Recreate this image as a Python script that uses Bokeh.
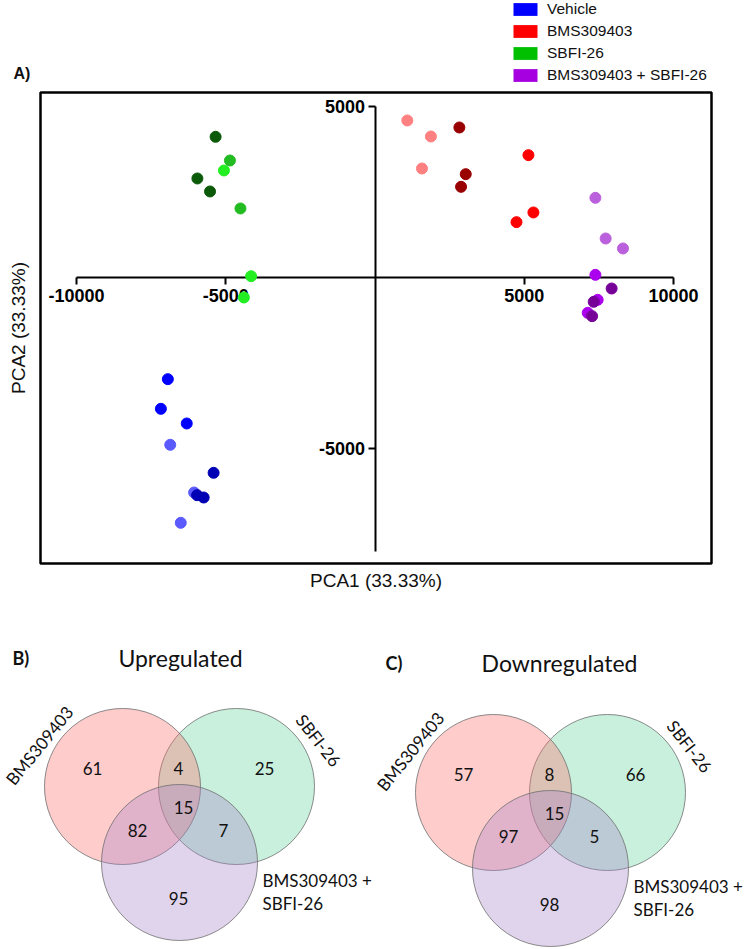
import math
from bokeh.plotting import figure
from bokeh.models import (Range1d, LinearAxis, FixedTicker, Legend, LegendItem,
                          ColumnDataSource)
from bokeh.layouts import column, row
from bokeh.embed import file_html
from bokeh.resources import INLINE
from bokeh.core.properties import value

# ---------------- Panel A data (PCA scores) ----------------
group_names = ["Vehicle", "BMS309403", "SBFI-26", "BMS309403 + SBFI-26"]

vehicle_pc1 = [-6940, -7173, -6307, -6860, -5407, -6060, -5960, -5740, -6507]
vehicle_pc2 = [-2973, -3840, -4269, -4892, -5711, -6287, -6365, -6433, -7173]
vehicle_rep = [1, 1, 1, 2, 0, 2, 0, 0, 2]

bms_pc1 = [1083, 1873, 2827, 5140, 1573, 3040, 2883, 5307, 4740]
bms_pc2 = [4591, 4123, 4386, 3577, 3187, 3021, 2651, 1901, 1618]
bms_rep = [2, 2, 0, 1, 2, 0, 0, 1, 1]

sbfi_pc1 = [-5340, -4860, -5060, -5950, -5527, -4507, -4150, -4393]
sbfi_pc2 = [4114, 3421, 3129, 2895, 2515, 2018, 38, -585]
sbfi_rep = [0, 1, 2, 0, 0, 1, 2, 2]

combo_pc1 = [7383, 7727, 8307, 7383, 7927, 7460, 7327, 7127, 7273]
combo_pc2 = [2330, 1140, 848, 78, -322, -653, -711, -1032, -1131]
combo_rep = [2, 2, 2, 1, 0, 1, 0, 1, 0]

pca_x_ticks = [-10000, -5000, 5000, 10000]
pca_x_tick_labels = ["-10000", "-5000", "5000", "10000"]
pca_y_ticks = [-5000, 5000]
pca_y_tick_labels = ["-5000", "5000"]
pca_x_label = "PCA1 (33.33%)"
pca_y_label = "PCA2 (33.33%)"

# ---------------- Panels B/C data (Venn counts) ----------------
# regions: BMS only, BMS&SBFI, SBFI only, all three, BMS&combo, SBFI&combo, combo only
up_counts = [61, 4, 25, 15, 82, 7, 95]
down_counts = [57, 8, 66, 15, 97, 5, 98]
venn_set_bms = "BMS309403"
venn_set_sbfi = "SBFI-26"
venn_set_combo = ["BMS309403 +", "SBFI-26"]

# ---------------- styles ----------------
swatch_colors = ["#0000ff", "#ff0000", "#00c000", "#a600e0"]
shade_palettes = [
    ["#0000b4", "#0000ff", "#5a5aff"],
    ["#990000", "#ff0000", "#ff8080"],
    ["#0a5a0a", "#22bb22", "#22ee22"],
    ["#770099", "#aa00ee", "#bb60dd"],
]
SANS = "Liberation Sans"
VFONT = "Lato"
NAN = float("nan")

# ---------------- header strip: panel tag + legend ----------------
head = figure(width=744, height=88, x_range=Range1d(0, 744),
              y_range=Range1d(88, 0), output_backend="svg",
              toolbar_location=None, x_axis_location=None,
              y_axis_location=None, min_border=0)
head.grid.visible = False
head.outline_line_color = None
head.background_fill_color = "white"
head.border_fill_color = "white"
head.text(x=[13], y=[73], text=["A)"], text_font=value(SANS),
          text_font_style="bold", text_font_size="16px", text_align="left",
          text_baseline="middle", text_color="#111111")

items = []
for name, col in zip(group_names, swatch_colors):
    # legend proxy (no visible mark of its own)
    r = head.quad(left=[NAN], right=[NAN], top=[NAN], bottom=[NAN],
                  fill_color=col, line_color=None)
    items.append(LegendItem(label=name, renderers=[r]))
legend = Legend(items=items, location=(510, 4),
                orientation="vertical", glyph_width=30, glyph_height=16,
                label_height=18, spacing=4, padding=0, margin=0,
                border_line_color=None, background_fill_alpha=0,
                label_standoff=7, label_text_font=SANS,
                label_text_font_size="15.5px", label_text_color="#111111")
head.add_layout(legend, "center")

# ---------------- Panel A ----------------
p = figure(width=744, height=510,
           x_range=Range1d(-11206, 11273), y_range=Range1d(-8363, 5409),
           output_backend="svg", toolbar_location=None,
           min_border_left=40, min_border_right=33,
           min_border_top=4, min_border_bottom=35)
p.grid.visible = False
p.outline_line_color = "black"
p.outline_line_width = 2.5
p.background_fill_color = "white"
p.border_fill_color = "white"

# label-only side axes
for ax, lab, standoff in ((p.xaxis[0], pca_x_label, 6), (p.yaxis[0], pca_y_label, 12)):
    ax.ticker = FixedTicker(ticks=[])
    ax.axis_line_color = None
    ax.major_tick_line_color = None
    ax.minor_tick_line_color = None
    ax.major_label_text_font_size = "0px"
    ax.major_label_standoff = 0
    ax.major_tick_out = 0
    ax.axis_label = lab
    ax.axis_label_standoff = standoff
    ax.axis_label_text_font = SANS
    ax.axis_label_text_font_size = "19px"
    ax.axis_label_text_font_style = "normal"
    ax.axis_label_text_color = "#111111"

# axes crossing at the origin
xa = LinearAxis(fixed_location=0, bounds=(-10000, 10000),
                ticker=FixedTicker(ticks=pca_x_ticks),
                major_label_overrides=dict(zip(pca_x_ticks, pca_x_tick_labels)))
ya = LinearAxis(fixed_location=0, bounds=(-8000, 5000),
                ticker=FixedTicker(ticks=pca_y_ticks),
                major_label_overrides=dict(zip(pca_y_ticks, pca_y_tick_labels)))
for ax in (xa, ya):
    ax.axis_line_width = 2
    ax.axis_line_color = "black"
    ax.major_tick_line_width = 2
    ax.major_tick_in = 0
    ax.major_tick_out = 7
    ax.minor_tick_line_color = None
    ax.major_label_text_font = SANS
    ax.major_label_text_font_style = "bold"
    ax.major_label_text_font_size = "18px"
    ax.major_label_text_color = "black"
    ax.level = "underlay"
xa.major_label_standoff = 5
ya.major_label_standoff = 3
p.add_layout(xa, "below")
p.add_layout(ya, "left")

groups_xy = [(vehicle_pc1, vehicle_pc2, vehicle_rep),
             (bms_pc1, bms_pc2, bms_rep),
             (sbfi_pc1, sbfi_pc2, sbfi_rep),
             (combo_pc1, combo_pc2, combo_rep)]
for gi, (gx, gy, grep) in enumerate(groups_xy):
    src = ColumnDataSource(dict(x=gx, y=gy,
                                c=[shade_palettes[gi][r] for r in grep]))
    p.scatter("x", "y", source=src, size=11, fill_color="c", line_color="c")


# ---------------- Panels B & C ----------------
def venn_panel(tag, tag_xy, title, title_xy, counts, origin):
    ox, oy = origin
    v = figure(width=372, height=350, x_range=Range1d(0, 372),
               y_range=Range1d(350, 0), output_backend="svg",
               toolbar_location=None, x_axis_location=None,
               y_axis_location=None, min_border=0)
    v.grid.visible = False
    v.outline_line_color = None
    v.background_fill_color = "white"
    v.border_fill_color = "white"

    # circles: SBFI-26 (green), BMS309403 (red), combination (purple)
    circ = [(ox + 114, oy, "#62d49b"), (ox, oy, "#ff6e6e"),
            (ox + 57, oy + 76, "#a684c9")]
    for cx, cy, col in circ:
        v.circle(x=[cx], y=[cy], radius=78, fill_color=col, fill_alpha=0.35,
                 line_color="#6f6f6f", line_alpha=0.8, line_width=1)

    offs = [(-30, -18), (56, -18), (142, -18), (61, 21), (15, 44),
            (101, 44), (56, 112)]
    v.text(x=[ox + dx for dx, dy in offs], y=[oy + dy for dx, dy in offs],
           text=[str(c) for c in counts], text_font=value(VFONT),
           text_font_size="17px", text_align="center",
           text_baseline="middle", text_color="#111111")

    v.text(x=[ox - 83], y=[oy - 41], text=[venn_set_bms], angle=51,
           angle_units="deg", text_font=value(VFONT), text_font_size="17px",
           text_align="center", text_baseline="middle", text_color="#111111")
    v.text(x=[ox + 196], y=[oy - 46], text=[venn_set_sbfi], angle=-52,
           angle_units="deg", text_font=value(VFONT), text_font_size="17px",
           text_align="center", text_baseline="middle", text_color="#111111")
    v.text(x=[ox + 140, ox + 140], y=[oy + 94, oy + 117], text=venn_set_combo,
           text_font=value(VFONT), text_font_size="17px", text_align="left",
           text_baseline="middle", text_color="#111111")

    v.text(x=[title_xy[0]], y=[title_xy[1]], text=[title],
           text_font=value(VFONT), text_font_size="23px", text_align="center",
           text_baseline="middle", text_color="#111111")
    v.text(x=[tag_xy[0]], y=[tag_xy[1]], text=[tag], text_font=value(VFONT),
           text_font_style="bold", text_font_size="18px", text_align="left",
           text_baseline="middle", text_color="#111111")
    return v


vb = venn_panel("B)", (12, 59), "Upregulated", (180, 59), up_counts, (122, 188))
vc = venn_panel("C)", (13, 64), "Downregulated", (187, 64), down_counts, (121, 194))

layout = column(row(head), row(p), row(vb, vc))
open("out.html", "w").write(file_html(layout, INLINE))
